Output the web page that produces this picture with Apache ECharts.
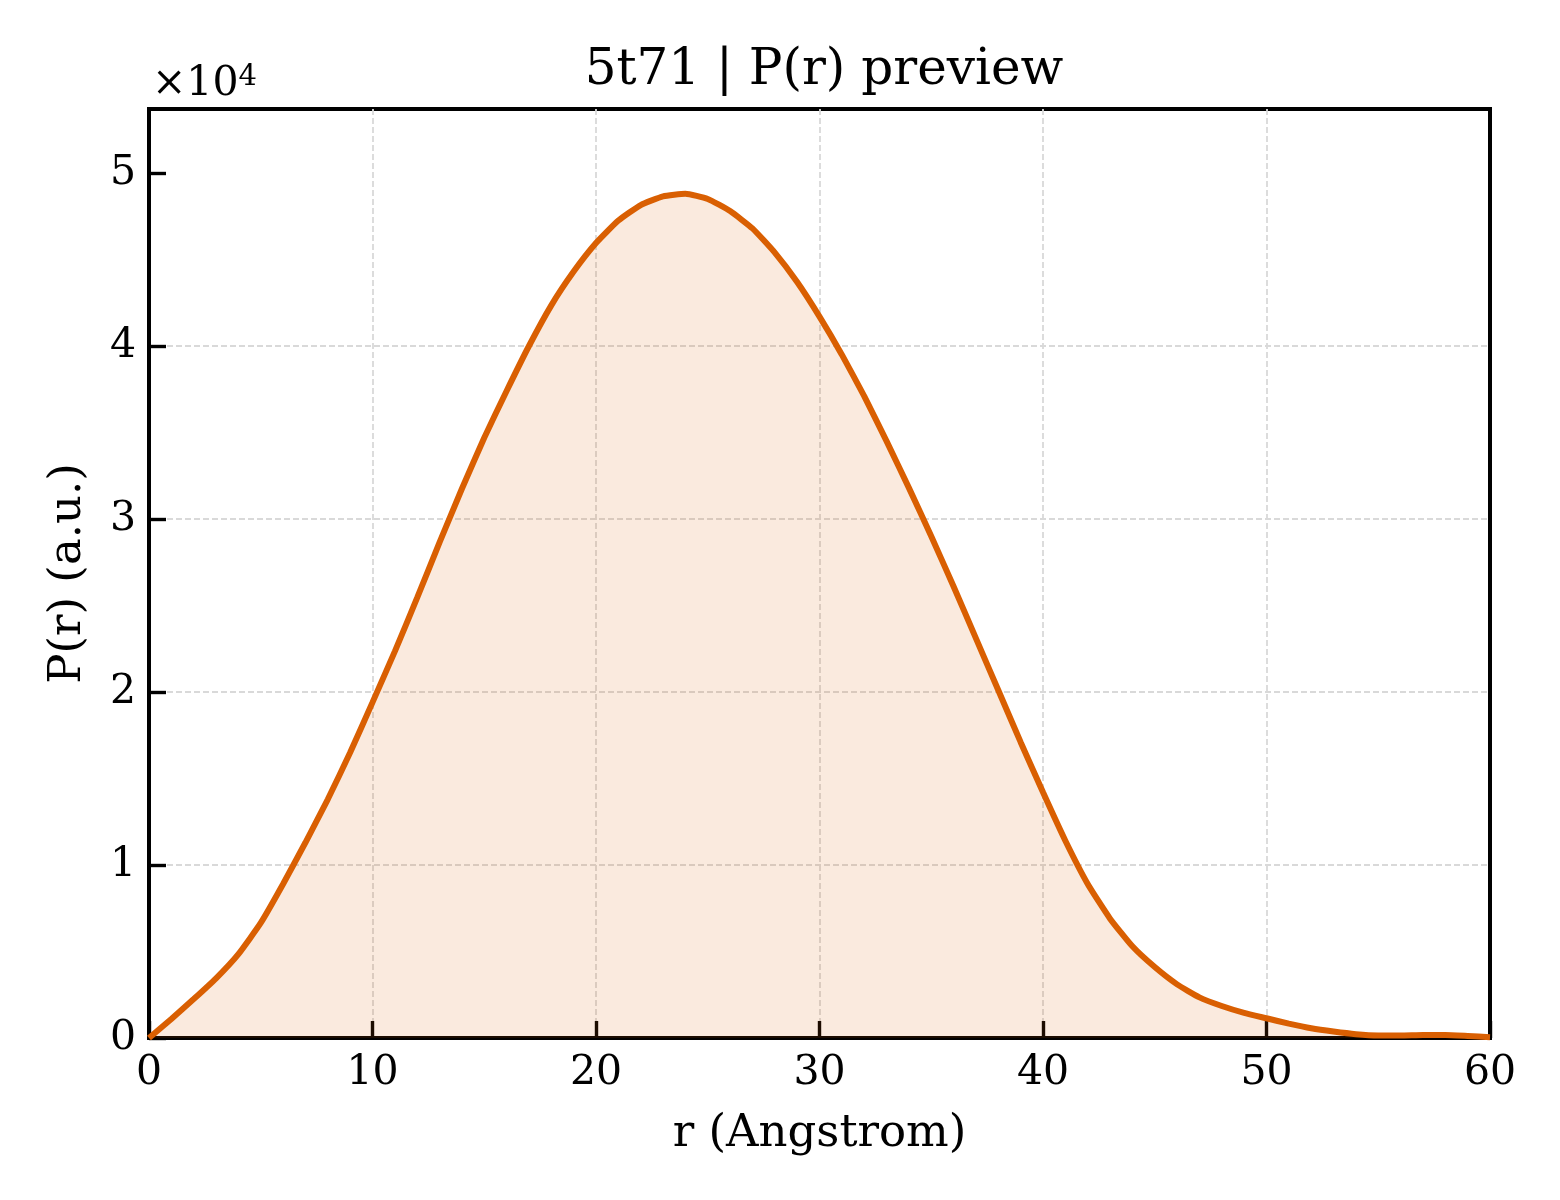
<!DOCTYPE html>
<html>
  <head>
    <meta charset="utf-8" />
    <title>5t71 P(r) preview</title>
    <script src="https://cdn.jsdelivr.net/npm/echarts/dist/echarts.min.js"></script>
  </head>
  <body style="margin:0; background:#fff;">
    <div id="main" style="width: 1560px; height: 1200px;"></div>

    <script type="text/javascript">
      var myChart = echarts.init(document.getElementById('main'));

      // r (Angstrom) at 1 A steps
      const rValues = [
        0, 1, 2, 3, 4, 5, 6, 7, 8, 9,
        10, 11, 12, 13, 14, 15, 16, 17, 18, 19,
        20, 21, 22, 23, 24, 25, 26, 27, 28, 29,
        30, 31, 32, 33, 34, 35, 36, 37, 38, 39,
        40, 41, 42, 43, 44, 45, 46, 47, 48, 49,
        50, 51, 52, 53, 54, 55, 56, 57, 58, 59, 60
      ];
      // P(r) in a.u.
      const prValues = [
        0, 1100, 2250, 3450, 4850, 6650, 8900, 11300, 13800, 16500,
        19400, 22350, 25450, 28650, 31750, 34700, 37400, 40000, 42350, 44300,
        45950, 47250, 48150, 48650, 48800, 48500, 47800, 46800, 45400, 43700,
        41700, 39500, 37100, 34500, 31800, 29000, 26100, 23100, 20100, 17100,
        14200, 11400, 8900, 6900, 5300, 4100, 3100, 2350, 1850, 1450,
        1140, 830, 560, 370, 220, 150, 150, 180, 180, 120, 50
      ];
      const yTicks = [0, 10000, 20000, 30000, 40000, 50000];
      const xTicks = [0, 10, 20, 30, 40, 50, 60];

      const lineColor = '#d95f02';
      const serif = 'DejaVu Serif';
      const spine = { color: '#000', width: 4 };
      const gridDash = { color: '#d9d9d9', width: 1.8, type: [6, 3] };

      const seriesData = rValues.map((r, i) => [r, prValues[i]]);

      let option = {
        animation: false,
        backgroundColor: '#fff',
        title: {
          text: '5t71 | P(r) preview',
          left: 819,
          textAlign: 'center',
          top: 41,
          textStyle: { fontFamily: serif, fontSize: 50, fontWeight: 'normal', color: '#000' }
        },
        grid: {
          left: 149, right: 70, top: 109, bottom: 162,
          show: true, borderColor: '#000', borderWidth: 4
        },
        graphic: [
          {
            type: 'text',
            left: 152,
            top: 63,
            style: {
              text: '×10{s|4}',
              fontFamily: serif,
              fontSize: 41,
              fill: '#000',
              rich: { s: { fontFamily: serif, fontSize: 29, verticalAlign: 'top', padding: [0, 0, 14, 0] } }
            }
          }
        ],
        xAxis: {
          type: 'value',
          min: 0, max: 60, interval: 10,
          name: 'r (Angstrom)',
          nameLocation: 'middle',
          nameGap: 74,
          nameTextStyle: { fontFamily: serif, fontSize: 45, color: '#000' },
          axisLine: { show: true, lineStyle: spine },
          axisTick: { show: true, inside: true, length: 17, lineStyle: { color: '#000', width: 3.4 } },
          axisLabel: {
            fontFamily: serif, fontSize: 41, color: '#000', margin: 15,
            customValues: xTicks
          },
          splitLine: { show: true, showMinLine: false, showMaxLine: false, lineStyle: gridDash }
        },
        yAxis: {
          type: 'value',
          min: 0, max: 53700, interval: 10000,
          name: 'P(r) (a.u.)',
          nameLocation: 'middle',
          nameGap: 58,
          nameTextStyle: { fontFamily: serif, fontSize: 45, color: '#000' },
          axisLine: { show: true, lineStyle: spine },
          axisTick: { show: true, inside: true, length: 17, lineStyle: { color: '#000', width: 3.4 }, customValues: yTicks },
          axisLabel: {
            fontFamily: serif, fontSize: 41, color: '#000', margin: 13,
            customValues: yTicks,
            formatter: v => String(Math.round(v / 10000))
          },
          splitLine: { show: true, showMinLine: false, showMaxLine: false, lineStyle: gridDash }
        },
        series: [
          {
            type: 'line',
            data: seriesData,
            showSymbol: false,
            smooth: 0.15,
            clip: false,
            lineStyle: { color: lineColor, width: 6 },
            areaStyle: { color: lineColor, opacity: 0.13 },
            z: 3
          }
        ]
      };

      myChart.setOption(option);
    </script>
  </body>
</html>
